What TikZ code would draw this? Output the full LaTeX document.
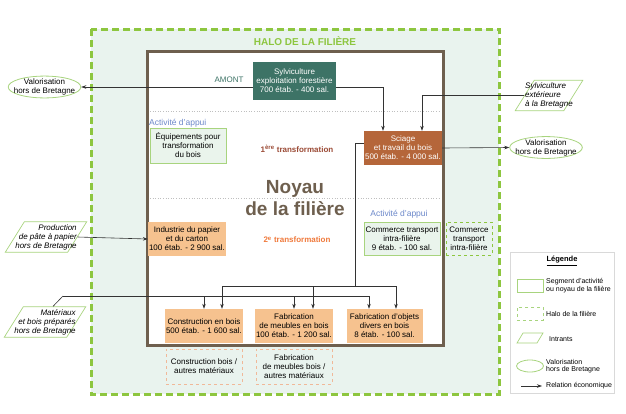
\documentclass[tikz,border=0pt]{standalone}
\usepackage{fontspec}
\setmainfont{Liberation Sans}
\usetikzlibrary{arrows.meta,shapes.geometric}
\definecolor{halofill}{HTML}{E9F3EE}
\definecolor{halogreen}{HTML}{8DC63F}
\definecolor{segline}{HTML}{A8D47E}
\definecolor{segfill}{HTML}{EAF4EC}
\definecolor{noyaubrown}{HTML}{6E5F4E}
\definecolor{amontteal}{HTML}{3D7366}
\definecolor{sciagebrown}{HTML}{B5663A}
\definecolor{peach}{HTML}{F6C28F}
\definecolor{peachdash}{HTML}{F0B898}
\definecolor{appuiblue}{HTML}{6C88CA}
\definecolor{premred}{HTML}{9B4A35}
\definecolor{deuxorange}{HTML}{F07A3C}
\colorlet{arrowgray}{black!80}
\newcommand{\legendtext}[3]{
\node[legtext] (#1) at (546, #2) {#3};
}

\begin{document}
\begin{tikzpicture}[x=1pt, y=-1pt,
  boxtext/.style={font=\fontsize{8}{9}\selectfont, align=center, inner sep=1pt},
  segbox/.style={boxtext, draw=segline, fill=segfill, line width=.8pt, minimum width=76, minimum height=34},
  noyaubox/.style={boxtext, fill=peach, minimum width=76, minimum height=34},
  halobox/.style={boxtext, draw=#1, dashed, line width=.7pt, minimum height=34},
  intrant/.style={trapezium, trapezium left angle=58, trapezium right angle=122, draw=segline, fill=white, line width=.7pt, font=\fontsize{8}{9}\selectfont\itshape, inner xsep=-9pt, inner ysep=2.5pt},
  valo/.style={ellipse, draw=segline, fill=white, line width=.8pt, inner xsep=-5pt, inner ysep=-.5pt, font=\fontsize{8}{9}\selectfont, align=center},
  rel/.style={draw=arrowgray, line width=.6pt, -{Stealth[length=5pt, width=3.5pt]}},
  link/.style={draw=arrowgray, line width=.6pt},
  appui/.style={text=appuiblue, font=\fontsize{8.5}{10}\selectfont, inner sep=0pt},
  legtext/.style={anchor=west, font=\fontsize{7}{7.5}\selectfont, align=left, inner sep=0pt}
]
\useasboundingbox (0, 0) rectangle (626, 413);

\draw[halogreen, fill=halofill, line width=3pt, dash pattern=on 7pt off 4pt] (91, 29) rectangle (499, 394);
\node[text=halogreen, font=\fontsize{10}{12}\selectfont\bfseries] (halotitle) at (305, 41) {HALO DE LA FILIÈRE};
\draw[noyaubrown, fill=white, line width=3pt] (147, 51) rectangle (443, 345);

\draw[black!25, dotted, line width=.6pt] (150, 111) -- (440, 111) (150, 198) -- (440, 198);

\node[boxtext, fill=amontteal, text=white, minimum width=83, minimum height=38] (sylv) at (294.5, 81) {Sylviculture\\exploitation forestière\\700 étab. - 400 sal.};
\node[text=amontteal, font=\fontsize{8}{9}\selectfont] (amont) at (229, 80) {AMONT};
\node[boxtext, fill=sciagebrown, text=white, minimum width=77, minimum height=34] (sciage) at (403, 148) {Sciage\\et travail du bois\\500 étab. - 4 000 sal.};

\node[appui, anchor=west] (appui1) at (149, 123) {Activité d’appui};
\node[segbox, minimum height=35] (equip) at (188, 145.5) {Équipements pour\\transformation\\du bois};
\node[text=premred, font=\fontsize{8}{9}\selectfont\bfseries] (prem) at (297, 149) {1\textsuperscript{ère} transformation};

\node[text=noyaubrown, font=\fontsize{19}{22}\selectfont\bfseries, align=center] (noyau) at (295, 198) {Noyau\\de la filière};

\node[noyaubox] (papier) at (187, 239) {Industrie du papier\\et du carton\\100 étab. - 2 900 sal.};
\node[text=deuxorange, font=\fontsize{8}{9}\selectfont\bfseries] (deux) at (297, 240) {2\textsuperscript{e} transformation};
\node[appui] (appui2) at (399, 214) {Activité d’appui};
\node[segbox, minimum height=33] (commerce) at (402, 238.5) {Commerce transport\\intra-filière\\9 étab. - 100 sal.};
\node[halobox=halogreen, minimum width=46, minimum height=33] (halocom) at (469, 238.5) {Commerce\\transport\\intra-filière};

\node[noyaubox] (constr) at (204, 326) {Construction en bois\\500 étab. - 1 600 sal.};
\node[noyaubox] (meub) at (294, 326) {Fabrication\\de meubles en bois\\100 étab. - 1 200 sal.};
\node[noyaubox] (obj) at (384.5, 326) {Fabrication d’objets\\divers en bois\\8 étab. - 100 sal.};
\node[halobox=peachdash, minimum width=76, minimum height=35] (haloconstr) at (204, 366.5) {Construction bois /\\autres matériaux};
\node[halobox=peachdash, minimum width=76, minimum height=35] (halomeub) at (294, 366.5) {Fabrication\\de meubles bois /\\autres matériaux};

\node[valo] (valL) at (44.5, 87) {Valorisation\\hors de Bretagne};
\node[valo] (valR) at (546, 147.5) {Valorisation\\hors de Bretagne};
\node[intrant, align=left] (sylvext) at (549, 95.5) {Sylviculture\\extérieure\\à la Bretagne};
\node[intrant, align=right] (prod) at (46, 237) {Production\\de pâte à papier\\hors de Bretagne};
\node[intrant, align=right] (mat) at (45, 322) {Matériaux\\et bois préparés\\hors de Bretagne};

\draw[rel] (sylv.west |- valL.east) -- (valL.east);
\draw[rel] (sylv.east |- valL.east) -| ([xshift=-20pt]sciage.north);
\draw[rel] (sylvext.west) -| ([xshift=19pt]sciage.north);
\draw[rel] (sciage.east) -- (valR.west);
\draw[rel] (prod.east) -- (papier.west);

\coordinate (sj) at (355, 286);
\draw[link] ([yshift=5pt]sciage.west) -| (sj);
\draw[rel] (sj) -| ([xshift=18pt]constr.north);
\draw[rel] (sj) -| ([xshift=19pt]meub.north);
\draw[rel] (sj) -| ([xshift=11.5pt]obj.north);

\coordinate (mj) at (63, 296);
\draw[link] ([xshift=8pt]mat.north) -- (mj);
\draw[rel] (mj) -| (constr.north);
\draw[rel] (mj) -| (meub.north);
\draw[rel] (mj) -| ([xshift=-15.5pt]obj.north);

\draw[black!15, fill=white, line width=1pt] (510, 252) rectangle (614, 393);
\node[font=\fontsize{7.5}{9}\selectfont\bfseries] (legtitle) at (562, 261) {\underline{Légende}};
\node[draw=segline, line width=.8pt, minimum width=26, minimum height=13, inner sep=0pt] (lseg) at (530, 285.5) {};
\node[draw=segline, dashed, line width=.7pt, minimum width=26, minimum height=13, inner sep=0pt] (lhalo) at (530, 313.5) {};
\draw[segline, line width=.7pt] (517, 343) -- (523, 333) -- (543, 333) -- (537, 343) -- cycle;
\draw[segline, fill=white, line width=.8pt] (530, 366) ellipse [x radius=13.5, y radius=6];
\coordinate (la) at (521, 386);
\coordinate (lb) at (542, 386);
\draw[rel] (la) -- (lb);
\legendtext{lsegt}{285.5}{Segment d’activité\\ou noyau de la filière}
\legendtext{lhalot}{314}{Halo de la filière}
\legendtext{lintrt}{339}{\hspace{3pt}Intrants}
\legendtext{lvalt}{366}{Valorisation\\hors de Bretagne}
\legendtext{lrelt}{386}{Relation économique}
\end{tikzpicture}
\end{document}
